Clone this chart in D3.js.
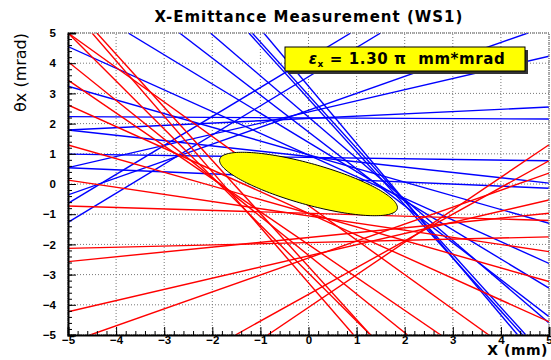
<!DOCTYPE html>
<html>
<head>
<meta charset="utf-8">
<script src="https://cdn.jsdelivr.net/npm/d3@7"></script>
<style>
  body { margin: 0; background: #fff; }
  svg { display: block; font-family: "DejaVu Sans", sans-serif; }
  .tick text { font-weight: bold; font-size: 11.5px; }
</style>
</head>
<body>
<div id="chart"></div>
<script>
// measured back-projected lines, [x1, y1, x2, y2] in mm / mrad
const blueLines = [
    [-5, 4.55, 5, -2.63],
    [-5, 3.24, 5, -1.30],
    [-5, 2.23, 5, 2.15],
    [-5, 1.79, 5, 2.55],
    [-5, 1.79, 5, 0.03],
    [-5, 0.99, 5, 0.77],
    [-5, 0.54, 5, 4.23],
    [-5, 0.54, 5, -0.14],
    [-5, -0.36, 4.56, 5],
    [-5, -0.64, 0.88, 5],
    [-5, -1.27, 1.5, 5],
    [-3.75, 5, 5, -3.45],
    [-2.68, 5, 5, -4.39],
    [-2.04, 5, 5, -4.6],
    [-1.24, 5, 4.45, -5],
    [-1.17, 5, 4.52, -5],
    [-0.93, 5, 4.35, -5]
];
const redLines = [
    [-5, 5, 1.29, -5],
    [-5, 5, 3.75, -5],
    [-4.5, 5, 0.94, -5],
    [-4.4, 5, 1.29, -5],
    [-5, 4.05, 2.06, -5],
    [-5, 3.44, 2.75, -5],
    [-5, 2.62, 5, -4.56],
    [-5, 1.29, 5, -3.23],
    [-5, 0.13, 5, -2.24],
    [-5, -0.73, 5, -1.21],
    [-5, -2.13, 5, -1.75],
    [-5, -2.57, 5, -0.97],
    [-5, -4.23, 5, -0.53],
    [-4.54, -5, 5, 0.36],
    [-1.52, -5, 5, 0.77],
    [-0.85, -5, 5, 1.30]
];
// fitted Twiss parameters of the ellipse
const emittance = 1.30;
const beta = 2.63;
const alpha = 1.11;
const majorTicks = [-5, -4, -3, -2, -1, 0, 1, 2, 3, 4, 5];

const width = 551, height = 360;
const margin = {top: 33, right: 2, bottom: 25, left: 68};

const svg = d3.select('#chart').append('svg')
    .attr('width', width)
    .attr('height', height);

const x = d3.scaleLinear().domain([-5, 5]).range([margin.left, width - margin.right]);
const y = d3.scaleLinear().domain([-5, 5]).range([height - margin.bottom, margin.top]);

svg.append('clipPath').attr('id', 'frame')
    .append('rect')
    .attr('x', x(-5)).attr('y', y(5))
    .attr('width', x(5) - x(-5)).attr('height', y(-5) - y(5));

// dotted grid
const grid = svg.append('g')
    .attr('stroke', '#777')
    .attr('stroke-dasharray', '1,2');
grid.selectAll('.gx').data(majorTicks).join('line')
    .attr('x1', d => x(d)).attr('x2', d => x(d))
    .attr('y1', y(-5)).attr('y2', y(5));
grid.selectAll('.gy').data(majorTicks).join('line')
    .attr('y1', d => y(d)).attr('y2', d => y(d))
    .attr('x1', x(-5)).attr('x2', x(5));

const plot = svg.append('g').attr('clip-path', 'url(#frame)');

plot.selectAll('.blue').data(blueLines).join('line')
    .attr('x1', d => x(d[0])).attr('y1', d => y(d[1]))
    .attr('x2', d => x(d[2])).attr('y2', d => y(d[3]))
    .attr('stroke', '#0000ff')
    .attr('stroke-width', 1.4);

plot.selectAll('.red').data(redLines).join('line')
    .attr('x1', d => x(d[0])).attr('y1', d => y(d[1]))
    .attr('x2', d => x(d[2])).attr('y2', d => y(d[3]))
    .attr('stroke', '#ff0000')
    .attr('stroke-width', 1.4);

// emittance ellipse from beta/alpha
const angles = d3.range(0, 2 * Math.PI + 0.01, Math.PI / 90);
const ellipse = angles.map(t => [
    Math.sqrt(emittance * beta) * Math.cos(t),
    -Math.sqrt(emittance / beta) * (alpha * Math.cos(t) + Math.sin(t))
]);
plot.append('path')
    .datum(ellipse)
    .attr('d', d3.line().x(d => x(d[0])).y(d => y(d[1])))
    .attr('fill', '#ffff00')
    .attr('stroke', '#000')
    .attr('stroke-width', 1);

// frame on top/right
svg.append('rect')
    .attr('x', x(-5)).attr('y', y(5))
    .attr('width', x(5) - x(-5)).attr('height', y(-5) - y(5))
    .attr('fill', 'none')
    .attr('stroke', '#888')
    .attr('stroke-width', 1.5)
    .attr('stroke-dasharray', '1,1');

// axes, ticks pointing inside like ROOT
const minor = d3.range(-5, 5.01, 0.2);
svg.append('g')
    .attr('transform', `translate(0,${y(-5)})`)
    .call(d3.axisBottom(x).tickValues(minor).tickSize(-4).tickFormat(''))
    .call(g => g.select('.domain').remove());
svg.append('g')
    .attr('transform', `translate(0,${y(-5)})`)
    .call(d3.axisBottom(x).tickValues(majorTicks).tickSize(-8))
    .call(g => g.selectAll('.tick text').attr('y', 1).attr('dy', '0.71em'))
    .call(g => g.select('.domain').attr('stroke-width', 2));

svg.append('g')
    .attr('transform', `translate(${x(-5)},0)`)
    .call(d3.axisLeft(y).tickValues(minor).tickSize(-4).tickFormat(''))
    .call(g => g.select('.domain').remove());
svg.append('g')
    .attr('transform', `translate(${x(-5)},0)`)
    .call(d3.axisLeft(y).tickValues(majorTicks).tickSize(-8).tickPadding(12))
    .call(g => g.select('.domain').attr('stroke-width', 2));

svg.selectAll('.tick line').attr('stroke', '#000');
svg.selectAll('.tick text').attr('fill', '#000');

// title and axis titles
svg.append('text')
    .attr('x', 309).attr('y', 22)
    .attr('text-anchor', 'middle')
    .attr('font-weight', 'bold')
    .attr('font-size', 15)
    .attr('letter-spacing', 1)
    .text('X-Emittance Measurement (WS1)');

svg.append('text')
    .attr('transform', `translate(26,${y(5)}) rotate(-90)`)
    .attr('text-anchor', 'end')
    .attr('font-size', 16)
    .text('θx (mrad)');

svg.append('text')
    .attr('x', x(5) - 1).attr('y', 355)
    .attr('text-anchor', 'end')
    .attr('font-weight', 'bold')
    .attr('font-size', 14)
    .attr('letter-spacing', 0.5)
    .text('X (mm)');

// legend box with shadow
const box = {x: 285, y: 47, w: 240, h: 24};
svg.append('rect')
    .attr('x', box.x + 3).attr('y', box.y + 3)
    .attr('width', box.w).attr('height', box.h)
    .attr('fill', '#333');
svg.append('rect')
    .attr('x', box.x).attr('y', box.y)
    .attr('width', box.w).attr('height', box.h)
    .attr('fill', '#ffff00')
    .attr('stroke', '#000')
    .attr('stroke-width', 1);
const label = svg.append('text')
    .attr('x', box.x + box.w / 2 + 2).attr('y', box.y + 17)
    .attr('text-anchor', 'middle')
    .attr('font-weight', 'bold')
    .attr('font-size', 15)
    .attr('letter-spacing', 0.6)
    .style('white-space', 'pre');
label.append('tspan').attr('font-style', 'italic').text('ε');
label.append('tspan').attr('font-size', 9).attr('dy', 3).text('x');
label.append('tspan').attr('dy', -3).text(` = ${emittance.toFixed(2)} π  mm*mrad`);
</script>
</body>
</html>
